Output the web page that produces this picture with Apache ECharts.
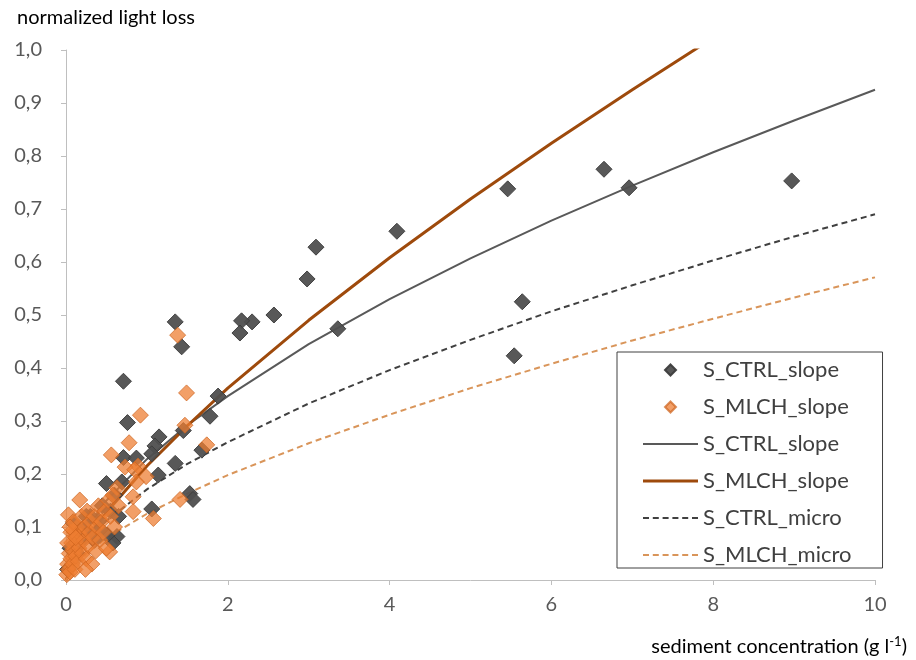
<!DOCTYPE html>
<html>
<head>
<meta charset="utf-8">
<script src="https://cdn.jsdelivr.net/npm/echarts@6/dist/echarts.min.js"></script>
<style>html,body{margin:0;padding:0;background:#fff}#c{width:916px;height:660px}</style>
</head>
<body>
<div id="c"></div>
<script>
// ---- data ----
const xTicks = [0, 2, 4, 6, 8, 10];
const yTicks = ['0,0','0,1','0,2','0,3','0,4','0,5','0,6','0,7','0,8','0,9','1,0'];

const ctrlSlopePts = [
  [8.97,0.753],[6.65,0.775],[6.96,0.740],[5.46,0.738],[5.64,0.525],[5.54,0.423],
  [4.09,0.658],[3.09,0.628],[2.98,0.568],[3.36,0.474],[2.57,0.500],[2.30,0.487],
  [2.17,0.489],[2.15,0.466],[1.88,0.347],[1.78,0.309],[1.35,0.487],[1.43,0.440],
  [0.71,0.375],[0.76,0.297],[1.45,0.282],[1.15,0.270],[1.10,0.253],[1.68,0.245],
  [1.06,0.238],[0.71,0.231],[0.87,0.230],[1.35,0.220],[1.14,0.198],[0.69,0.185],
  [1.53,0.163],[1.57,0.152],[1.06,0.134],[0.50,0.182],[0.63,0.082],[0.09,0.107],
  [0.58,0.070],[0.51,0.085],[0.23,0.100],[0.30,0.120],[0.40,0.110],[0.35,0.075],
  [0.18,0.090],[0.14,0.050],[0.05,0.060],[0.02,0.020],[0.25,0.120],[0.45,0.140],
  [0.55,0.130],[0.60,0.160],[0.65,0.120],[0.20,0.075],[0.28,0.088],[0.42,0.095]
];
const mlchSlopePts = [
  [1.38,0.462],[1.49,0.353],[0.92,0.311],[1.47,0.292],[0.78,0.259],[1.74,0.255],
  [0.56,0.236],[0.89,0.215],[0.73,0.213],[0.99,0.195],[0.63,0.174],[1.41,0.152],
  [0.83,0.157],[1.08,0.116],[0.83,0.129],[0.85,0.208],[0.87,0.185],[0.17,0.151],
  [0.03,0.123],[0.54,0.053],
  [0.01,0.010],[0.02,0.030],[0.03,0.020],[0.04,0.050],[0.05,0.015],[0.06,0.040],
  [0.07,0.070],[0.08,0.030],[0.09,0.055],[0.10,0.090],[0.11,0.020],[0.12,0.045],
  [0.13,0.070],[0.14,0.100],[0.15,0.035],[0.16,0.060],[0.18,0.085],[0.19,0.120],
  [0.20,0.050],[0.22,0.075],[0.23,0.100],[0.25,0.040],[0.26,0.130],[0.28,0.065],
  [0.29,0.090],[0.30,0.110],[0.32,0.030],[0.33,0.080],[0.35,0.120],[0.37,0.055],
  [0.38,0.100],[0.40,0.140],[0.42,0.075],[0.44,0.110],[0.46,0.090],[0.48,0.130],
  [0.50,0.060],[0.52,0.150],[0.55,0.120],[0.58,0.160],[0.60,0.100],[0.65,0.140],
  [0.06,0.090],[0.02,0.070],[0.09,0.110],[0.24,0.020],[0.05,0.100],[0.12,0.080]
];

const curveX       = [0, 0.25, 0.5, 1, 1.5, 2, 3, 4, 5, 6, 7, 8, 9, 10];
const ctrlSlopeFit = [0, 0.098, 0.150, 0.228, 0.292, 0.347, 0.445, 0.530, 0.607, 0.678, 0.744, 0.807, 0.867, 0.925];
const mlchSlopeFit = [0, 0.076, 0.128, 0.215, 0.291, 0.362, 0.490, 0.608, 0.719, 0.824, 0.925, 1.023, 1.12, 1.21];
const ctrlMicroFit = [0, 0.074, 0.112, 0.171, 0.219, 0.260, 0.333, 0.396, 0.453, 0.507, 0.556, 0.603, 0.648, 0.690];
const mlchMicroFit = [0, 0.050, 0.079, 0.125, 0.163, 0.198, 0.258, 0.312, 0.362, 0.408, 0.452, 0.493, 0.533, 0.571];

const ZW = '\u200B';
const names = ['S_CTRL_slope','S_MLCH_slope','S_CTRL_slope'+ZW,'S_MLCH_slope'+ZW,'S_CTRL_micro','S_MLCH_micro'];

function pairs(xs, ys){ return xs.map((x,i)=>[x, ys[i]]); }

const FONT = 'Lato';
const DIAMOND = 'path://M5,0 L10,5 L5,10 L0,5 Z';
const SOLID2 = 'path://M0,0H55V2H0Z';
const SOLID3 = 'path://M0,0H55V3H0Z';
const DASHED = 'path://M0,0H6V2H0Z M9.8,0H15.8V2H9.8Z M19.6,0H25.6V2H19.6Z M29.4,0H35.4V2H29.4Z M39.2,0H45.2V2H39.2Z M49,0H55V2H49Z';

const chart = echarts.init(document.getElementById('c'), null, {renderer:'canvas'});
chart.setOption({
  animation: false,
  backgroundColor: '#fff',
  textStyle: {fontFamily: FONT},
  title: [
    {text: 'normalized light loss', left: 12, top: 3,
     textStyle: {fontFamily: FONT, fontSize: 20, fontWeight: 'normal', color: '#000'}},
    {text: 'sediment concentration (g l{sup|-1})', right: 4, top: 630,
     textStyle: {fontFamily: FONT, fontSize: 20, fontWeight: 'normal', color: '#000',
       rich: {sup: {fontFamily: FONT, fontSize: 13, color: '#000', padding: [0,0,10,0]}}}}
  ],
  grid: {left: 66, right: 41, top: 50, bottom: 80},
  xAxis: {
    type: 'value', min: 0, max: 10, interval: 2,
    axisLine: {show: true, lineStyle: {color: '#bfbfbf', width: 1}},
    axisTick: {show: true, length: 5, lineStyle: {color: '#bfbfbf'}},
    splitLine: {show: false},
    axisLabel: {fontFamily: FONT, fontSize: 20, color: '#595959', margin: 15,
      formatter: v => xTicks.indexOf(v) >= 0 ? String(v) : ''}
  },
  yAxis: {
    type: 'value', min: 0, max: 1, interval: 0.1,
    axisLine: {show: true, lineStyle: {color: '#bfbfbf', width: 1}},
    axisTick: {show: true, length: 5, lineStyle: {color: '#bfbfbf'}},
    splitLine: {show: false},
    axisLabel: {fontFamily: FONT, fontSize: 20, color: '#595959', margin: 24,
      formatter: v => yTicks[Math.round(v*10)]}
  },
  legend: {
    orient: 'vertical', left: 617, top: 352,
    padding: [7, 31, 2, 26],
    borderColor: '#404040', borderWidth: 1, backgroundColor: '#fff',
    itemWidth: 55, itemHeight: 11, itemGap: 15,
    textStyle: {fontFamily: FONT, fontSize: 22, color: '#404040'},
    data: [
      {name: names[0], icon: DIAMOND},
      {name: names[1], icon: DIAMOND},
      {name: names[2], icon: SOLID2},
      {name: names[3], icon: SOLID3},
      {name: names[4], icon: DASHED},
      {name: names[5], icon: DASHED}
    ]
  },
  series: [
    {name: names[2], type: 'line', data: pairs(curveX, ctrlSlopeFit), symbol: 'none', smooth: false,
     lineStyle: {color: '#595959', width: 2}, itemStyle: {color: '#595959'}, z: 1},
    {name: names[3], type: 'line', data: pairs(curveX, mlchSlopeFit), symbol: 'none',
     lineStyle: {color: '#9e4a0c', width: 3}, itemStyle: {color: '#9e4a0c'}, z: 1},
    {name: names[4], type: 'line', data: pairs(curveX, ctrlMicroFit), symbol: 'none',
     lineStyle: {color: '#404040', width: 2, type: [6, 4]}, itemStyle: {color: '#404040'}, z: 1},
    {name: names[5], type: 'line', data: pairs(curveX, mlchMicroFit), symbol: 'none',
     lineStyle: {color: '#d9955a', width: 2, type: [6, 4]}, itemStyle: {color: '#d9955a'}, z: 1},
    {name: names[0], type: 'scatter', data: ctrlSlopePts, symbol: 'diamond', symbolSize: 16,
     itemStyle: {color: '#4f4f4f', borderColor: '#3c3c3c', borderWidth: 1, opacity: 0.95}, z: 3},
    {name: names[1], type: 'scatter', data: mlchSlopePts, symbol: 'diamond', symbolSize: 16,
     itemStyle: {color: 'rgba(237,125,49,0.92)', borderColor: 'rgba(205,100,30,0.9)', borderWidth: 1}, z: 4}
  ]
});
</script>
</body>
</html>
